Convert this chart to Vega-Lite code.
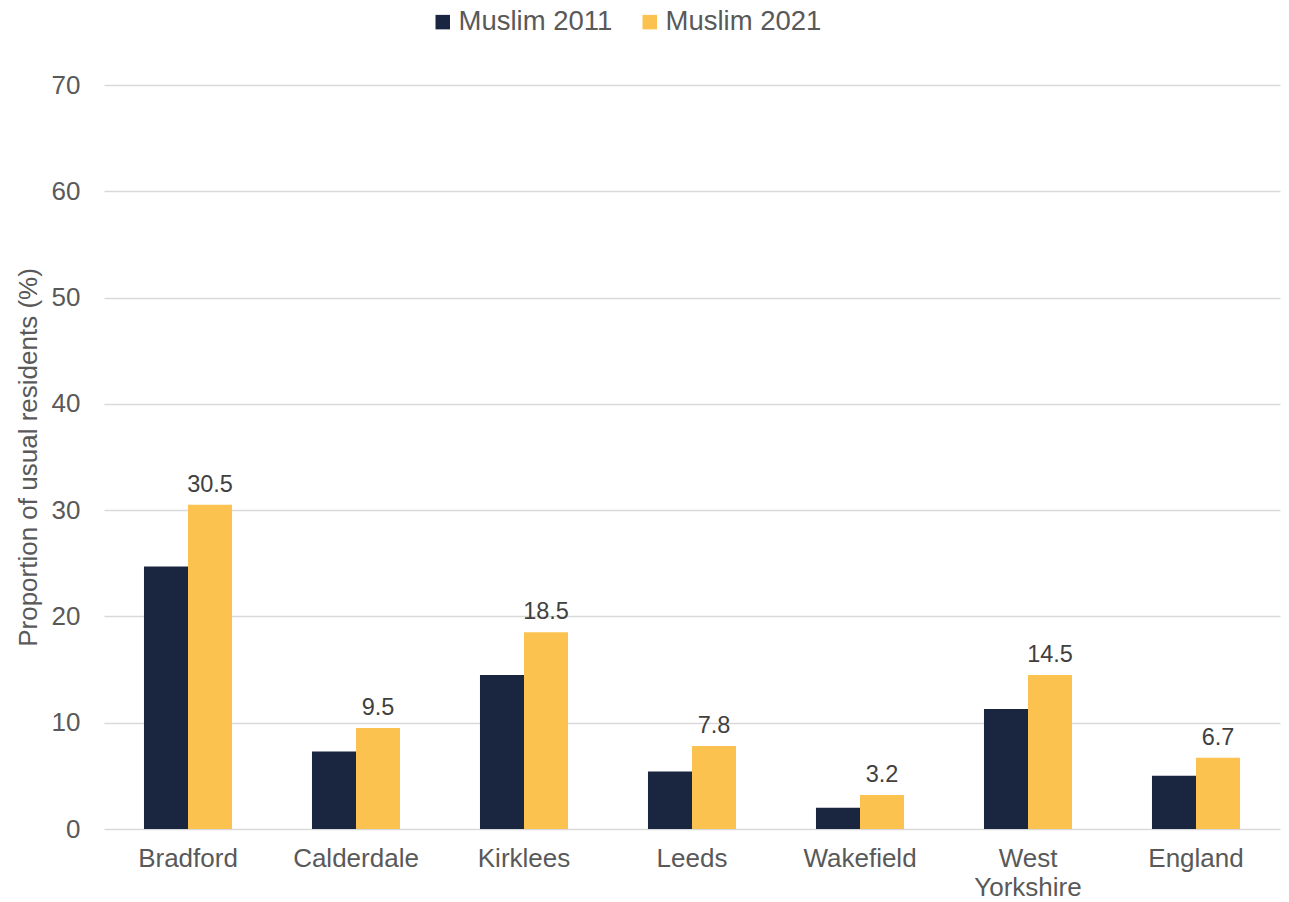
{
  "$schema": "https://vega.github.io/schema/vega-lite/v6.json",
  "width": 1176,
  "height": 744,
  "autosize": "none",
  "padding": {"left": 104, "top": 85, "right": 9, "bottom": 73},
  "background": "white",
  "config": {
    "font": "Liberation Sans",
    "view": {"stroke": null}
  },
  "data": {
    "values": [
      {"area": "Bradford", "series": "Muslim 2011", "value": 24.7},
      {"area": "Bradford", "series": "Muslim 2021", "value": 30.5},
      {"area": "Calderdale", "series": "Muslim 2011", "value": 7.3},
      {"area": "Calderdale", "series": "Muslim 2021", "value": 9.5},
      {"area": "Kirklees", "series": "Muslim 2011", "value": 14.5},
      {"area": "Kirklees", "series": "Muslim 2021", "value": 18.5},
      {"area": "Leeds", "series": "Muslim 2011", "value": 5.4},
      {"area": "Leeds", "series": "Muslim 2021", "value": 7.8},
      {"area": "Wakefield", "series": "Muslim 2011", "value": 2.0},
      {"area": "Wakefield", "series": "Muslim 2021", "value": 3.2},
      {"area": "West Yorkshire", "series": "Muslim 2011", "value": 11.3},
      {"area": "West Yorkshire", "series": "Muslim 2021", "value": 14.5},
      {"area": "England", "series": "Muslim 2011", "value": 5.0},
      {"area": "England", "series": "Muslim 2021", "value": 6.7}
    ]
  },
  "encoding": {
    "x": {
      "field": "area",
      "type": "nominal",
      "sort": null,
      "scale": {"paddingInner": 0.476, "paddingOuter": 0.238},
      "axis": {
        "title": null,
        "labelAngle": 0,
        "labelFontSize": 26,
        "labelColor": "#595959",
        "labelPadding": 16,
        "ticks": false,
        "domain": false,
        "labelLineHeight": 29,
        "labelExpr": "datum.label == 'West Yorkshire' ? ['West', 'Yorkshire'] : datum.label"
      }
    },
    "xOffset": {
      "field": "series",
      "type": "nominal",
      "scale": {"domain": ["Muslim 2011", "Muslim 2021"], "paddingInner": 0, "paddingOuter": 0}
    },
    "y": {
      "field": "value",
      "type": "quantitative",
      "scale": {"domain": [0, 70]},
      "axis": {
        "title": "Proportion of usual residents (%)",
        "titleFontSize": 26,
        "titleFontWeight": "normal",
        "titleColor": "#595959",
        "titlePadding": 10,
        "values": [0, 10, 20, 30, 40, 50, 60, 70],
        "labelFontSize": 26,
        "labelColor": "#595959",
        "labelPadding": 24,
        "ticks": false,
        "domain": false,
        "gridColor": "#d9d9d9",
        "gridWidth": 1.5
      }
    }
  },
  "layer": [
    {
      "mark": {"type": "bar"},
      "encoding": {
        "color": {
          "field": "series",
          "type": "nominal",
          "scale": {"domain": ["Muslim 2011", "Muslim 2021"], "range": ["#1a2640", "#fbc250"]},
          "legend": {
            "title": null,
            "orient": "none",
            "direction": "horizontal",
            "legendX": 325,
            "legendY": -77,
            "symbolType": "square",
            "symbolSize": 210,
            "symbolStrokeWidth": 0,
            "labelFontSize": 27.5,
            "labelColor": "#595959",
            "labelOffset": 2,
            "columnPadding": 23
          }
        }
      }
    },
    {
      "transform": [{"filter": "datum.series == 'Muslim 2021'"}],
      "mark": {"type": "text", "baseline": "alphabetic", "dy": -13, "fontSize": 23.5, "color": "#404040"},
      "encoding": {
        "text": {"field": "value", "type": "quantitative", "format": ".1f"}
      }
    }
  ]
}
